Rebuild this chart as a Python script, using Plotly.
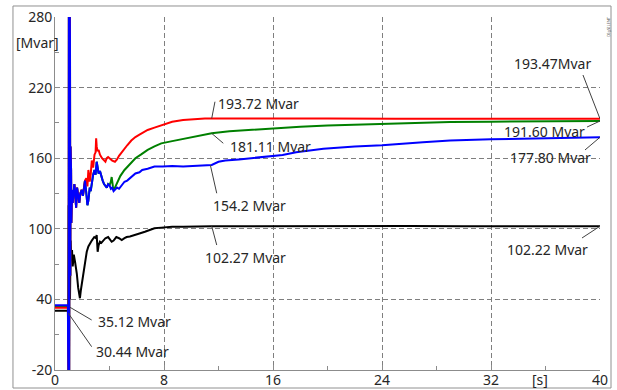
import plotly.graph_objects as go

# ---------------- data (time in s, reactive power in Mvar) ----------------
blue_t = [0, 0.95, 0.96, 0.98, 1.00, 1.02, 1.04, 1.06, 1.08, 1.10,
          1.12, 1.14, 1.16, 1.18, 1.20, 1.25, 1.30, 1.36, 1.42, 1.47,
          1.55, 1.62, 1.70, 1.78, 1.86, 1.96, 2.05, 2.12, 2.20, 2.30,
          2.38, 2.45, 2.55, 2.62, 2.70, 2.80, 2.90, 2.98, 3.06, 3.12,
          3.20, 3.30, 3.40, 3.50, 3.60, 3.70, 3.80, 3.90, 4.00, 4.10,
          4.20, 4.30, 4.40, 4.55, 4.70, 4.90, 5.10, 5.30, 5.60, 5.90,
          6.20, 6.40, 6.80, 7.30, 7.90, 8.60, 9.40, 10.2, 11.0, 11.5,
          12.0, 12.5, 13.5, 14.3, 15.5, 16.7, 17.7, 19.7, 22.0, 24.0,
          27.0, 29.0, 32.0, 36.0, 40.0]
blue_v = [35.12, 35.12, 4, 171, -40, 320, -40, 320, 20, 260,
          60, 170, 95, 150, 105, 133, 122, 130, 138, 132,
          118, 135, 127, 122, 130, 133, 128, 136, 141, 130,
          120, 124, 135, 132, 141, 146, 150, 146, 157, 150,
          147, 149, 144, 141, 138, 136, 135, 138, 137, 134,
          135, 132, 133, 135, 134, 137, 140, 141, 144, 147,
          148, 150, 151, 153, 153, 153.4, 153, 153.5, 153.8, 154.2,
          157, 158, 159, 160, 161.5, 162.7, 165, 168, 170, 171,
          173.5, 175, 176, 177, 177.8]

red_t = [0, 0.95, 0.96, 0.98, 1.00, 1.02, 1.04, 1.06, 1.08, 1.10,
         1.12, 1.14, 1.16, 1.18, 1.20, 1.25, 1.30, 1.36, 1.42, 1.47,
         1.55, 1.62, 1.70, 1.78, 1.86, 1.96, 2.05, 2.12, 2.20, 2.30,
         2.38, 2.45, 2.55, 2.62, 2.70, 2.80, 2.90, 2.98, 3.02, 3.06,
         3.12, 3.20, 3.30, 3.45, 3.60, 3.70, 3.80, 3.90, 4.00, 4.20,
         4.40, 4.55, 4.70, 4.90, 5.10, 5.30, 5.60, 5.90, 6.20, 6.50,
         6.80, 7.30, 7.80, 8.20, 8.60, 9.40, 10.2, 11.0, 11.5, 13.0,
         16.0, 20.0, 25.0, 30.0, 35.0, 40.0]
red_v = [33.0, 33.0, 4, 171, -40, 320, -40, 320, 20, 260,
         60, 170, 95, 150, 105, 133, 122, 130, 138, 132,
         118, 135, 127, 122, 130, 133, 128, 136, 141, 143,
         136, 150, 140, 146, 158, 152, 163, 165, 177, 170,
         166, 167, 163, 160, 158, 157, 160, 161, 160, 158,
         157, 159, 162, 165, 169, 171, 175, 178, 180, 182,
         184, 186, 188, 189.5, 191, 192.5, 193.3, 193.7, 193.72, 193.8,
         193.6, 193.7, 193.6, 193.6, 193.5, 193.47]

green_t = [0, 0.95, 0.96, 0.98, 1.00, 1.02, 1.04, 1.06, 1.08, 1.10,
           1.12, 1.14, 1.16, 1.18, 1.20, 1.25, 1.30, 1.36, 1.42, 1.47,
           1.55, 1.62, 1.70, 1.78, 1.86, 1.96, 2.05, 2.12, 2.20, 2.30,
           2.38, 2.45, 2.55, 2.62, 2.70, 2.80, 2.90, 2.98, 3.06, 3.12,
           3.20, 3.30, 3.40, 3.50, 3.60, 3.70, 3.80, 3.90, 4.00, 4.10,
           4.16, 4.25, 4.30, 4.40, 4.55, 4.65, 4.80, 5.10, 5.40, 5.90,
           6.30, 6.80, 7.30, 7.80, 8.60, 9.40, 10.4, 11.5, 12.8, 14.3,
           16.0, 18.0, 20.0, 24.0, 27.0, 29.0, 32.0, 36.0, 40.0]
green_v = [33.5, 33.5, 4, 171, -40, 320, -40, 320, 20, 260,
           60, 170, 95, 150, 105, 133, 122, 130, 138, 132,
           118, 135, 127, 122, 130, 133, 128, 136, 141, 130,
           120, 124, 135, 132, 141, 146, 150, 146, 157, 150,
           147, 149, 144, 141, 138, 136, 135, 138, 137, 140,
           144, 136, 133, 135, 139, 141.5, 145, 150, 154, 160,
           163, 167, 170, 172.6, 174.5, 176.5, 179, 181.11, 182.8, 184,
           185.5, 186.8, 187.8, 189, 190, 190.8, 191, 191.4, 191.6]

black_t = [0, 0.95, 0.97, 1.00, 1.03, 1.06, 1.10, 1.15, 1.20, 1.25,
           1.30, 1.38, 1.47, 1.55, 1.60, 1.70, 1.78, 1.83, 1.90, 2.00,
           2.08, 2.20, 2.33, 2.45, 2.57, 2.70, 2.88, 3.00, 3.06, 3.10,
           3.13, 3.20, 3.30, 3.40, 3.55, 3.70, 3.90, 4.05, 4.16, 4.30,
           4.50, 4.70, 4.90, 5.10, 5.26, 5.50, 5.90, 6.20, 6.60, 7.00,
           7.30, 7.80, 8.60, 9.40, 10.5, 11.5, 14.0, 18.0, 22.0, 26.0,
           30.0, 35.0, 40.0]
black_v = [30.44, 30.44, 10, 120, 0, 150, 40, 90, 76, 82,
           68, 78, 72, 67, 62, 50, 43, 41, 48, 56,
           62, 72, 80.5, 85, 87.7, 90, 93, 92, 94.7, 88,
           80.5, 86, 89, 88, 90.5, 92, 93, 91, 89, 90,
           93, 92, 90.5, 92, 93, 93.5, 94.7, 96, 97.5, 99,
           100.4, 101, 101.8, 101.8, 102.2, 102.27, 102.1, 102.3, 102.2, 102.3,
           102.2, 102.2, 102.22]

# value labels: text, label centre (t, v), point that the leader line hits (t, v)
label_text = ["193.47Mvar", "191.60 Mvar", "177.80 Mvar", "102.22 Mvar",
              "193.72 Mvar", "181.11 Mvar", "154.2 Mvar", "102.27 Mvar",
              "35.12 Mvar", "30.44 Mvar"]
label_pos = [(36.48, 240.9), (35.96, 183.1), (36.4, 160.2), (36.18, 82.0),
             (14.9, 206.9), (15.78, 169.8), (14.3, 119.4), (14.0, 75.2),
             (5.8, 21.0), (5.69, -4.4)]
leader_from = [(38.75, 230.7), (39.05, 186.5), (38.9, 167.0), (38.68, 92.2),
               (11.74, 208.0), (12.35, 172.7), (11.87, 130.2), (11.87, 86.2),
               (2.69, 22.5), (2.69, -0.2)]
leader_to = [(40.0, 193.47), (40.0, 191.6), (40.0, 177.8), (40.0, 102.22),
             (11.5, 193.72), (11.5, 181.11), (11.4, 154.2), (11.5, 102.27),
             (1.1, 33.3), (0.98, 28.2)]

x_ticks = [0, 8, 16, 24, 32, 40]
y_ticks = [-20, 40, 100, 160, 220, 280]

FONT = "Noto Sans"

fig = go.Figure()
for t, v, c in [(black_t, black_v, "#000000"),
                (green_t, green_v, "#008000"),
                (red_t, red_v, "#ff0000"),
                (blue_t, blue_v, "#0000ff")]:
    fig.add_trace(go.Scatter(x=t, y=v, mode="lines",
                             line=dict(color=c, width=2), hoverinfo="skip"))

shapes = []
for (x0, y0), (x1, y1) in zip(leader_from, leader_to):
    shapes.append(dict(type="line", xref="x", yref="y", x0=x0, y0=y0, x1=x1, y1=y1,
                       line=dict(color="#404040", width=1), layer="above"))
# outer frame
shapes.append(dict(type="rect", xref="paper", yref="paper",
                   x0=-0.0771, x1=1.0202, y0=-0.051, y1=1.0312,
                   line=dict(color="#909090", width=1)))

annotations = []
for txt, (x, y) in zip(label_text, label_pos):
    annotations.append(dict(x=x, y=y, xref="x", yref="y", text=txt, showarrow=False,
                            font=dict(family=FONT, size=14, color="#262626"),
                            xanchor="center", yanchor="middle"))
annotations.append(dict(x=-0.0312, y=0.929, xref="paper", yref="paper", text="[Mvar]",
                        showarrow=False, font=dict(family=FONT, size=14, color="#262626"),
                        xanchor="center", yanchor="middle"))
annotations.append(dict(x=0.89, y=-0.0255, xref="paper", yref="paper", text="[s]",
                        showarrow=False, font=dict(family=FONT, size=14, color="#262626"),
                        xanchor="center", yanchor="middle"))
annotations.append(dict(x=1.0165, y=0.975, xref="paper", yref="paper", text="DIgSILENT",
                        showarrow=False, textangle=-90,
                        font=dict(family=FONT, size=4, color="#404040"),
                        xanchor="center", yanchor="middle"))

axis_common = dict(showgrid=True, gridcolor="#7f7f7f", griddash="5px,3px", gridwidth=1,
                   showline=True, linecolor="#8c8c8c", linewidth=1, zeroline=False,
                   ticks="inside", ticklen=5, tickcolor="#8c8c8c", automargin=False,
                   tickfont=dict(family=FONT, size=14, color="#262626"))

fig.update_layout(
    width=617, height=390,
    margin=dict(l=55, r=17, t=17, b=20, autoexpand=False),
    plot_bgcolor="white", paper_bgcolor="white",
    showlegend=False,
    shapes=shapes, annotations=annotations,
    xaxis=dict(range=[0, 40], tickmode="array", tickvals=x_ticks,
               ticktext=[str(v) for v in x_ticks], ticklabelstandoff=-3,
               minor=dict(tickmode="array", tickvals=[4, 12, 20, 28, 36],
                          ticks="inside", ticklen=4, tickcolor="#8c8c8c", showgrid=False),
               **axis_common),
    yaxis=dict(range=[-20, 280], tickmode="array", tickvals=y_ticks,
               ticktext=[str(v) for v in y_ticks], ticklabelstandoff=-1,
               minor=dict(tickmode="array", tickvals=[10, 70, 130, 190, 250],
                          ticks="inside", ticklen=4, tickcolor="#8c8c8c", showgrid=False),
               **axis_common),
)

# page body has a default 8px margin; remove it so the figure sits at the window origin
fig.write_html("out.html", config={"displayModeBar": False},
               post_script="document.body.style.margin='0px';document.body.style.overflow='hidden';")
